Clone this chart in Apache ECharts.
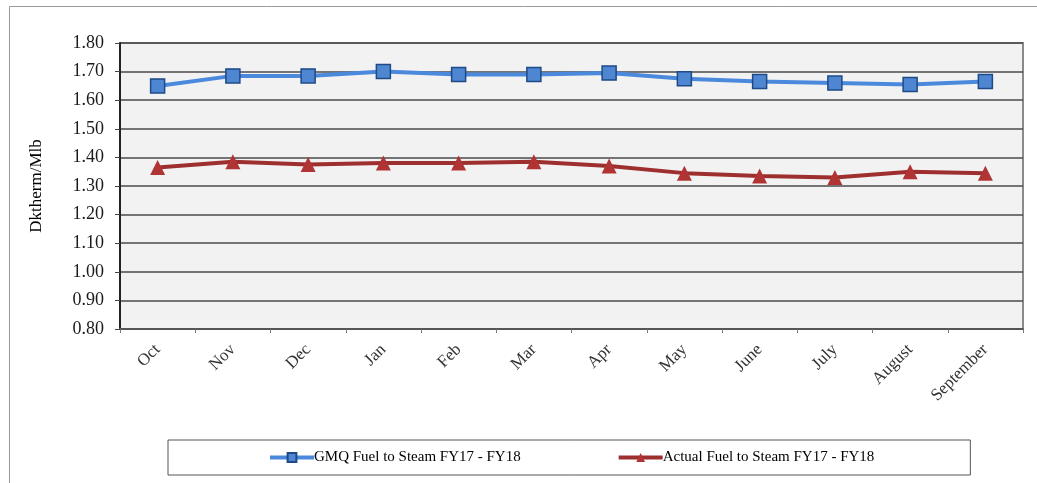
<!DOCTYPE html>
<html>
<head>
<meta charset="utf-8">
<script src="https://cdn.jsdelivr.net/npm/echarts@6/dist/echarts.min.js"></script>
<style>
  html, body { margin: 0; padding: 0; background: #fff; }
  #chart { width: 1037px; height: 483px; }
</style>
</head>
<body>
<div id="chart"></div>
<script>
const months = ['Oct', 'Nov', 'Dec', 'Jan', 'Feb', 'Mar', 'Apr', 'May', 'June', 'July', 'August', 'September'];
const gmqFuel = [1.65, 1.685, 1.685, 1.70, 1.69, 1.69, 1.695, 1.675, 1.665, 1.66, 1.655, 1.665];
const actualFuel = [1.365, 1.385, 1.375, 1.38, 1.38, 1.385, 1.37, 1.345, 1.335, 1.33, 1.35, 1.345];

const serif = '"Liberation Serif", "DejaVu Serif", serif';

const chart = echarts.init(document.getElementById('chart'));

chart.setOption({
  animation: false,
  backgroundColor: '#fff',
  graphic: [
    {
      type: 'rect',
      shape: { x: 9.5, y: 6.5, width: 1040, height: 490 },
      style: { fill: 'none', stroke: '#9a9a9a', lineWidth: 1 },
      silent: true
    }
  ],
  grid: {
    left: 120,
    right: 14,
    top: 43,
    bottom: 154,
    show: true,
    backgroundColor: '#f2f2f2',
    borderColor: '#8a8a8a',
    borderWidth: 2
  },
  legend: {
    data: ['GMQ Fuel to Steam FY17 - FY18', 'Actual Fuel to Steam FY17 - FY18'],
    left: 168,
    top: 440,
    padding: [10, 96, 10, 100],
    itemGap: 96,
    itemWidth: 44,
    itemHeight: 11,
    lineStyle: { width: 4 },
    borderColor: '#555',
    borderWidth: 1,
    textStyle: { fontFamily: serif, fontSize: 15, color: '#000', padding: [0, 0, 0, -5] }
  },
  xAxis: {
    type: 'category',
    data: months,
    boundaryGap: true,
    axisLine: { show: true, lineStyle: { color: '#555', width: 2 } },
    axisTick: { show: true, length: 4, lineStyle: { color: '#777' } },
    axisLabel: {
      rotate: 45,
      margin: 18,
      fontFamily: serif,
      fontSize: 17,
      color: '#333'
    },
    splitLine: { show: false }
  },
  yAxis: {
    type: 'value',
    min: 0.8,
    max: 1.8,
    interval: 0.1,
    name: 'Dktherm/Mlb',
    nameLocation: 'middle',
    nameGap: 75,
    nameTextStyle: { fontFamily: serif, fontSize: 17, color: '#000' },
    axisLine: { show: true, lineStyle: { color: '#222', width: 2 } },
    axisTick: { show: true, length: 5, lineStyle: { color: '#444' } },
    axisLabel: {
      formatter: (v) => v.toFixed(2),
      margin: 16,
      fontFamily: serif,
      fontSize: 18,
      color: '#1a1a1a'
    },
    splitLine: { show: true, lineStyle: { color: '#4a4a4a', width: 1.5 } }
  },
  series: [
    {
      name: 'GMQ Fuel to Steam FY17 - FY18',
      type: 'line',
      data: gmqFuel,
      symbol: 'rect',
      symbolSize: 14,
      lineStyle: { color: '#4a89dc', width: 4 },
      itemStyle: { color: '#4f86d2', borderColor: '#1e4a86', borderWidth: 1.5 }
    },
    {
      name: 'Actual Fuel to Steam FY17 - FY18',
      type: 'line',
      data: actualFuel,
      symbol: 'triangle',
      symbolSize: 15,
      lineStyle: { color: '#9e2f2f', width: 4 },
      itemStyle: { color: '#b03434', borderColor: '#b03434', borderWidth: 0 }
    }
  ]
});
</script>
</body>
</html>
